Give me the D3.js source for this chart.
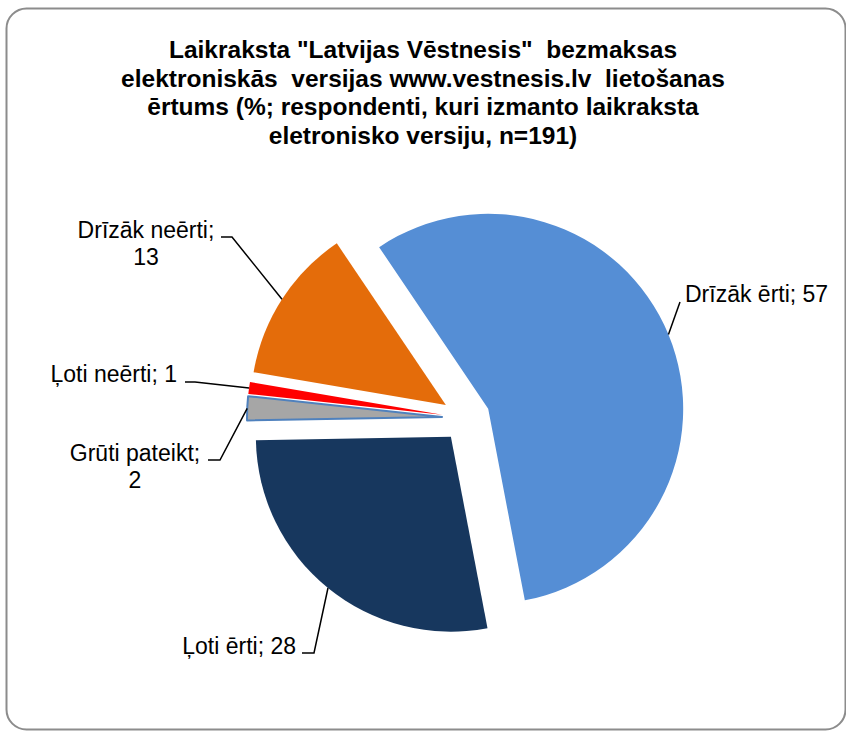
<!DOCTYPE html>
<html>
<head>
<meta charset="utf-8">
<script src="https://cdn.jsdelivr.net/npm/d3@7"></script>
<style>
  body { margin: 0; background: #fff; }
  text { font-family: "Liberation Sans", Arial, sans-serif; white-space: pre; }
</style>
</head>
<body>
<div id="chart"></div>
<script>
var titleLines = [
  'Laikraksta "Latvijas Vēstnesis"  bezmaksas',
  'elektroniskās  versijas www.vestnesis.lv  lietošanas',
  'ērtums (%; respondenti, kuri izmanto laikraksta',
  'eletronisko versiju, n=191)'
]

var categories = ["Drīzāk ērti", "Ļoti ērti", "Grūti pateikt", "Ļoti neērti", "Drīzāk neērti"]
var values = [57, 28, 2, 1, 13]
var colors = ["#558ed5", "#17375e", "#a6a6a6", "#ff0000", "#e46c0a"]

// label placement (x, baseline y, anchor, wrap after ";", leader elbow)
var labelPos = [
  {x: 685, y: 302, anchor: "start", wrap: false, elbow: [[680, 302]]},
  {x: 296, y: 654, anchor: "end", wrap: false, elbow: [[314, 653], [302, 653]]},
  {x: 135, y: 461, anchor: "middle", wrap: true, elbow: [[220, 460], [208, 460]]},
  {x: 177, y: 382, anchor: "end", wrap: false, elbow: [[195, 382], [185, 382]]},
  {x: 146, y: 238, anchor: "middle", wrap: true, elbow: [[232, 237], [221, 237]]}
]

var width = 846
var height = 732
var cx = 466, cy = 418
var radius = 195
var explode = 24
var startAngle = -34 * Math.PI / 180

var svg = d3.select("#chart").append("svg")
  .attr("width", width)
  .attr("height", height)

// chart frame
svg.append("rect")
  .attr("x", 6.5).attr("y", 8.5)
  .attr("width", 839).attr("height", 721)
  .attr("rx", 20).attr("ry", 20)
  .attr("fill", "#fff")
  .attr("stroke", "#8c8c8c")
  .attr("stroke-width", 2)

// title
svg.append("g").selectAll("text")
  .data(titleLines)
  .enter().append("text")
  .attr("x", 423)
  .attr("y", function(d, i) { return 58 + i * 28.5 })
  .attr("text-anchor", "middle")
  .attr("font-size", 24.5)
  .attr("font-weight", "bold")
  .attr("fill", "#000")
  .text(function(d) { return d })

var data = categories.map(function(c, i) {
  return {name: c, value: values[i], color: colors[i], pos: labelPos[i]}
})

var pie = d3.pie()
  .sort(null)
  .value(function(d) { return d.value })
  .startAngle(startAngle)
  .endAngle(startAngle + 2 * Math.PI)

var arc = d3.arc().innerRadius(0).outerRadius(radius)
var edgeArc = d3.arc().innerRadius(radius).outerRadius(radius)

var slices = pie(data)

function offset(d) {
  var m = (d.startAngle + d.endAngle) / 2
  return [cx + explode * Math.sin(m), cy - explode * Math.cos(m)]
}

var g = svg.append("g")

g.selectAll("path.slice")
  .data(slices)
  .enter().append("path")
  .attr("class", "slice")
  .attr("transform", function(d) { return "translate(" + offset(d) + ")" })
  .attr("d", arc)
  .attr("fill", function(d) { return d.data.color })
  .attr("stroke", function(d) { return d.data.name == "Grūti pateikt" ? "#4f81bd" : "none" })
  .attr("stroke-width", 2)
  .attr("stroke-linejoin", "round")

// leader lines
var line = d3.line()
g.selectAll("path.leader")
  .data(slices)
  .enter().append("path")
  .attr("class", "leader")
  .attr("d", function(d) {
    var o = offset(d)
    var c = edgeArc.centroid(d)
    var pts = [[o[0] + c[0], o[1] + c[1]]].concat(d.data.pos.elbow)
    return line(pts)
  })
  .attr("fill", "none")
  .attr("stroke", "#000")
  .attr("stroke-width", 1.5)

// labels
var labels = g.selectAll("text.lbl")
  .data(slices)
  .enter().append("text")
  .attr("class", "lbl")
  .attr("text-anchor", function(d) { return d.data.pos.anchor })
  .attr("font-size", 23)
  .attr("fill", "#000")

labels.each(function(d) {
  var p = d.data.pos
  var t = d3.select(this)
  if (p.wrap) {
    t.append("tspan").attr("x", p.x).attr("y", p.y).text(d.data.name + ";")
    t.append("tspan").attr("x", p.x).attr("y", p.y + 26.5).text(d.data.value)
  } else {
    t.append("tspan").attr("x", p.x).attr("y", p.y).text(d.data.name + "; " + d.data.value)
  }
})
</script>
</body>
</html>
